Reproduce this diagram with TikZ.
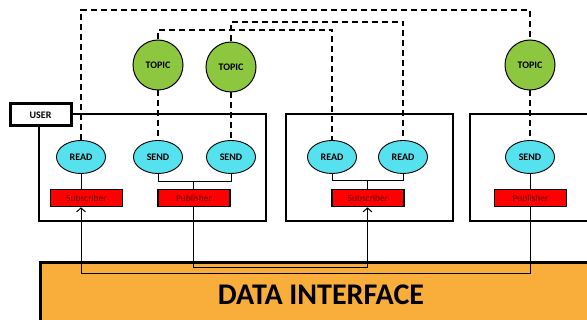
\documentclass[tikz,border=0pt]{standalone}
\usepackage{fontspec}
\setmainfont{Carlito}
\usetikzlibrary{arrows.meta,shapes.geometric}
\definecolor{topicgreen}{RGB}{141,198,63}
\definecolor{opcyan}{RGB}{85,226,238}
\definecolor{boxred}{RGB}{255,0,0}
\definecolor{ifaceorange}{RGB}{249,174,59}
\definecolor{darktext}{RGB}{100,0,0}
\tikzset{
  topic/.style={circle, draw=black, line width=1pt, fill=topicgreen, minimum size=50pt, inner sep=0pt,
    font=\fontsize{10}{12}\selectfont\bfseries},
  op/.style={ellipse, draw=black, line width=0.9pt, fill=opcyan, minimum width=49pt, minimum height=33pt, inner sep=0pt,
    font=\fontsize{10}{12}\selectfont\bfseries},
  role/.style={rectangle, draw=black, line width=1.6pt, fill=boxred, minimum width=72pt, minimum height=17pt, inner sep=0pt,
    font=\fontsize{9.5}{11}\selectfont, text=darktext},
  container/.style={draw=black, line width=2pt},
  dashlink/.style={draw=black, line width=1.4pt, dash pattern=on 6pt off 4pt},
  link/.style={draw=black, line width=1pt},
  datalink/.style={draw=black, line width=1pt, -{Straight Barb[length=4pt,width=9pt,line width=1pt]}},
}
\begin{document}
\begin{tikzpicture}[x=1pt,y=-1pt]
\clip (0,0) rectangle (587,320);
\fill[white] (0,0) rectangle (587,320);
% data interface
\node[draw=black, line width=3pt, fill=ifaceorange, minimum width=561pt, minimum height=69pt, inner sep=0pt, anchor=north west] (iface) at (39,261) {};
\node[font=\fontsize{30}{32}\selectfont\bfseries] (ifacetext) at (321,294.5) {DATA INTERFACE};
% containers
\draw[container] (39,114) rectangle (266,221);
\draw[container] (286,114) rectangle (453,221);
\draw[container] (470,114) rectangle (600,221);
% user
\node[draw=black, line width=3pt, fill=white, minimum width=61pt, minimum height=22pt, inner sep=0pt,
  font=\fontsize{10}{12}\selectfont\bfseries] (user) at (40.5,115) {USER};
% topics
\node[topic] (t1) at (158,65) {TOPIC};
\node[topic] (t2) at (231,67) {TOPIC};
\node[topic] (t3) at (530,65) {TOPIC};
% operations
\node[op] (r1) at (81,157) {READ};
\node[op] (s1) at (158,157) {SEND};
\node[op] (s2) at (231,157) {SEND};
\node[op] (r2) at (332,157) {READ};
\node[op] (r3) at (403,157) {READ};
\node[op] (s3) at (530,157) {SEND};
% roles
\node[role] (sub1) at (86.5,198) {Subscriber};
\node[role] (pub1) at (194,198) {Publisher};
\node[role] (sub2) at (368,198) {Subscriber};
\node[role] (pub3) at (530.5,198) {Publisher};
% coordinates
\coordinate (topy) at (0,10);
\coordinate (midy) at (0,22);
\coordinate (lowy) at (0,30);
\coordinate (j1) at (193.5,182);
\coordinate (j2) at (367.5,181);
\coordinate (a1) at (81,274);
\coordinate (a2) at (367.5,268);
% dashed topic links
\draw[dashlink] (r1.north) -- (r1.north |- topy) -| (t3.north);
\draw[dashlink] (t2.north) -- (t2.north |- midy) -| (r3.north);
\draw[dashlink] (t1.north) -- (t1.north |- lowy) -| (r2.north);
\draw[dashlink] (t1.south) -- (s1.north);
\draw[dashlink] (t2.south) -- (s2.north);
\draw[dashlink] (t3.south) -- (s3.north);
% op to role links
\draw[link] (r1.south) -- (r1.south |- sub1.north);
\draw[link] (s1.south) |- (j1);
\draw[link] (s2.south) |- (j1);
\draw[link] (j1) -- (j1 |- pub1.north);
\draw[link] (r2.south) |- (j2);
\draw[link] (r3.south) |- (j2);
\draw[link] (j2) -- (j2 |- sub2.north);
\draw[link] (s3.south) -- (s3.south |- pub3.north);
% data links
\draw[datalink] (pub3.south) |- (a1) -- (a1 |- sub1.south);
\draw[datalink] (pub1.south -| j1) |- (a2) -- (a2 |- sub2.south);
\end{tikzpicture}
\end{document}
